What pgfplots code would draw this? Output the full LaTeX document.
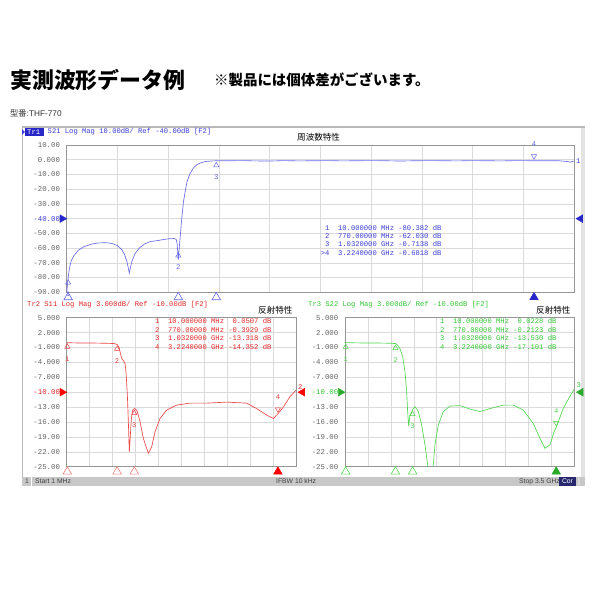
\documentclass[border=0pt]{standalone}
\usepackage{fontspec}
\setmainfont{Liberation Sans}
\newfontfamily\cjk{Noto Sans CJK JP}
\newfontfamily\vna{Liberation Mono}
\usepackage{pgfplots}
\pgfplotsset{compat=1.18}
\definecolor{tblue}{RGB}{104,104,232}
\definecolor{lblue}{RGB}{60,60,215}
\definecolor{tred}{RGB}{236,70,70}
\definecolor{lred}{RGB}{228,40,40}
\definecolor{tgreen}{RGB}{80,215,80}
\definecolor{lgreen}{RGB}{50,200,50}
\definecolor{gridc}{RGB}{218,218,218}
\definecolor{borderc}{RGB}{150,150,150}
\definecolor{tickc}{RGB}{100,100,100}
\definecolor{framec}{RGB}{185,185,185}
\definecolor{statusc}{RGB}{200,200,200}
\definecolor{corc}{RGB}{40,40,110}
\definecolor{trbox}{RGB}{40,40,200}
\newcommand{\vf}{\vna\fontsize{7.2}{8}\selectfont}
\pgfplotsset{
  vna/.style={
    scale only axis, anchor=north west,
    xmin=0, xmax=3.5,
    xtick={0,0.35,0.7,1.05,1.4,1.75,2.1,2.45,2.8,3.15,3.5},
    xticklabels={},
    grid=major,
    major grid style={gridc, line width=0.5bp},
    axis line style={borderc, line width=0.7bp},
    major tick length=0pt,
    yticklabel style={font=\vna\fontsize{7.4}{8}\selectfont, text=tickc, anchor=east, inner sep=0pt, xshift=-6.5bp},
    clip mode=individual,
    clip marker paths=false,
  },
  trc/.style={line width=0.65bp, no marks, #1},
  mkdown/.style={only marks, mark=triangle, mark size=3bp,
    mark options={draw=#1, line width=0.5bp, yshift=-4.5bp},
    nodes near coords, point meta=explicit symbolic,
    every node near coord/.append style={anchor=center, yshift=-12bp, font=\vf, text=#1, inner sep=0pt}},
  mkup/.style={only marks, mark=triangle, mark size=3bp,
    mark options={draw=#1, line width=0.5bp, yshift=4.5bp, rotate=180},
    nodes near coords, point meta=explicit symbolic,
    every node near coord/.append style={anchor=center, yshift=12bp, font=\vf, text=#1, inner sep=0pt}},
  stim/.style={only marks, mark=triangle, mark size=5bp,
    mark options={draw=#1, line width=0.6bp, yshift=-5bp}},
  stimact/.style={only marks, mark=triangle*, mark size=5bp,
    mark options={draw=#1, fill=#1, yshift=-5bp}},
  refl/.style={only marks, mark=triangle*, mark size=4.5bp,
    mark options={draw=#1, fill=#1, xshift=-4.5bp, rotate=-90}},
  refr/.style={only marks, mark=triangle*, mark size=4.5bp,
    mark options={draw=#1, fill=#1, xshift=6.5bp, rotate=90}},
}
\begin{document}
\begin{tikzpicture}
\begin{scope}[x=1bp,y=1bp]
\useasboundingbox (0,0) rectangle (600,600);
\fill[white] (0,0) rectangle (600,600);
% titles
\node[anchor=west, inner sep=0pt, font=\cjk\bfseries\fontsize{22}{22}\selectfont] at (10,520) {実測波形データ例};
\node[anchor=west, inner sep=0pt, font=\cjk\bfseries\fontsize{14.5}{14.5}\selectfont] at (214,520) {※製品には個体差がございます。};
\node[anchor=west, inner sep=0pt, font=\fontsize{8.3}{8.3}\selectfont, text=black!80] at (10,487) {{\cjk 型番}:THF-770};
% instrument frame
\fill[framec!40] (581,123) rectangle (585,473);
\draw[framec, line width=0.8bp] (22,114) -- (22,473);
\draw[framec, line width=2bp] (22,473) -- (585,473);
\fill[statusc] (22,114) rectangle (585,123);
\fill[white] (31,114) rectangle (32,123);
\node[anchor=west, inner sep=0pt, font=\fontsize{6.8}{7}\selectfont, text=black!75] at (25,118.5) {1};
\node[anchor=west, inner sep=0pt, font=\fontsize{6.8}{7}\selectfont, text=black!75] at (35,118.5) {Start 1 MHz};
\node[anchor=west, inner sep=0pt, font=\fontsize{6.8}{7}\selectfont, text=black!75] at (276,118.5) {IFBW 10 kHz};
\node[anchor=west, inner sep=0pt, font=\fontsize{6.8}{7}\selectfont, text=black!75] at (519,118.5) {Stop 3.5 GHz};
\fill[corc] (559,114) rectangle (576,123);
\node[anchor=center, inner sep=0pt, font=\fontsize{6.8}{7}\selectfont, text=white] at (567.5,118.5) {Cor};
\fill[white!85!black] (578,115) rectangle (580,122);
% headers
\fill[lblue] (22,465) -- (24.8,468) -- (22,471) -- cycle;
\fill[trbox] (25,464.3) rectangle (43.5,471.7);
\node[anchor=west, inner sep=0pt, font=\vf, text=white] at (27,468) {Tr1};
\node[anchor=west, inner sep=0pt, font=\vf, text=lblue] at (47.5,468) {S21~Log~Mag~10.00dB/~Ref~-40.00dB~[F2]};
\node[anchor=west, inner sep=0pt, font=\cjk\fontsize{8.6}{9}\selectfont] at (297,463) {周波数特性};
\node[anchor=west, inner sep=0pt, font=\vf, text=lred] at (27,295) {Tr2~S11~Log~Mag~3.000dB/~Ref~-10.00dB~[F2]};
\node[anchor=west, inner sep=0pt, font=\cjk\fontsize{8.6}{9}\selectfont] at (258,290) {反射特性};
\node[anchor=west, inner sep=0pt, font=\vf, text=lgreen] at (308,295) {Tr3~S22~Log~Mag~3.000dB/~Ref~-10.00dB~[F2]};
\node[anchor=west, inner sep=0pt, font=\cjk\fontsize{8.6}{9}\selectfont] at (536,290) {反射特性};
\end{scope}

% ---------- Top: S21 ----------
\begin{axis}[vna, at={(66.7bp,455bp)}, width=507.3bp, height=147.3bp,
  ymin=-90, ymax=10, ytick={-90,-80,-70,-60,-50,-40,-30,-20,-10,0,10},
  yticklabels={-90.00,-80.00,-70.00,-60.00,-50.00,\textcolor{lblue}{-40.00},-30.00,-20.00,-10.00,0.000,10.00}]
\addplot[trc=tblue] coordinates {
(0.001,-89.5)(0.004,-86)(0.01,-80.4)(0.018,-74)(0.03,-69)(0.05,-65)(0.08,-61.5)(0.12,-59)(0.17,-57.3)(0.22,-56.5)(0.27,-56.3)(0.31,-56.8)(0.35,-58.3)(0.38,-61)(0.40,-64.5)(0.415,-69)(0.425,-73.5)(0.432,-77)(0.44,-73)(0.45,-69)(0.47,-64)(0.5,-60)(0.54,-57)(0.58,-55.5)(0.62,-55)(0.66,-54.3)(0.7,-53.7)(0.74,-53.5)(0.755,-54)(0.762,-57)(0.767,-64)(0.770,-68)(0.773,-64)(0.778,-58)(0.785,-50)(0.79,-44)(0.797,-37)(0.805,-29)(0.815,-23)(0.83,-15)(0.85,-9.5)(0.875,-5.5)(0.9,-3.3)(0.93,-1.9)(0.96,-1.2)(1.0,-0.85)(1.032,-0.71)(1.1,-0.75)(1.2,-0.6)(1.3,-0.8)(1.4,-0.9)(1.5,-0.6)(1.6,-0.8)(1.7,-0.7)(1.8,-0.6)(1.9,-0.8)(2.0,-0.7)(2.1,-0.6)(2.2,-0.7)(2.3,-0.9)(2.4,-0.7)(2.5,-0.6)(2.6,-0.7)(2.7,-0.8)(2.8,-0.6)(2.9,-0.7)(3.0,-0.8)(3.1,-0.6)(3.224,-0.68)(3.3,-0.7)(3.4,-0.75)(3.45,-1.2)(3.475,-1.6)(3.5,-0.9)};
\addplot[mkdown=tblue] coordinates {(0.01,-80.38)[1] (0.77,-62.03)[2] (1.032,-0.71)[3]};
\addplot[mkup=tblue] coordinates {(3.224,-0.68)[4]};
\addplot[stim=tblue] coordinates {(0.01,-90)(0.77,-90)(1.032,-90)};
\addplot[stimact=trbox] coordinates {(3.224,-90)};
\addplot[refl=trbox] coordinates {(0,-40)};
\addplot[refr=trbox] coordinates {(3.5,-40)};
\node[anchor=west, inner sep=0pt, font=\vf, text=lblue, xshift=2bp] at (axis cs:3.5,-0.8) {1};
\end{axis}

% ---------- Bottom left: S11 ----------
\begin{axis}[vna, at={(66.7bp,282.3bp)}, width=229.3bp, height=149bp,
  ymin=-25, ymax=5, ytick={-25,-22,-19,-16,-13,-10,-7,-4,-1,2,5},
  yticklabels={-25.00,-22.00,-19.00,-16.00,-13.00,\textcolor{lred}{-10.00},-7.000,-4.000,-1.000,2.000,5.000}]
\addplot[trc=tred] coordinates {
(0.001,-0.03)(0.05,-0.05)(0.2,-0.1)(0.4,-0.1)(0.6,-0.15)(0.72,-0.2)(0.77,-0.39)(0.80,-1.0)(0.814,-1.85)(0.839,-3.2)(0.865,-3.65)(0.89,-4.2)(0.905,-5.9)(0.926,-10.6)(0.941,-15.9)(0.956,-22.0)(0.972,-18.6)(0.987,-15.3)(1.007,-13.6)(1.032,-13.3)(1.05,-13.4)(1.078,-13.9)(1.119,-15.9)(1.17,-19.3)(1.246,-22.3)(1.297,-21)(1.348,-18)(1.424,-15.3)(1.526,-13.6)(1.679,-12.6)(1.882,-12.2)(2.136,-12.2)(2.441,-12.0)(2.747,-12.2)(2.899,-13.3)(3.052,-14.6)(3.154,-15.3)(3.224,-14.35)(3.306,-13.0)(3.408,-10.9)(3.5,-9.6)};
\addplot[mkdown=tred] coordinates {(0.01,0.05)[1] (0.77,-0.39)[2] (1.032,-13.32)[3]};
\addplot[mkup=tred] coordinates {(3.224,-14.35)[4]};
\addplot[stim=tred!70] coordinates {(0.01,-25)(0.77,-25)(1.032,-25)};
\addplot[stimact=red] coordinates {(3.224,-25)};
\addplot[refl=red] coordinates {(0,-10)};
\addplot[refr=red] coordinates {(3.5,-10)};
\node[anchor=south west, inner sep=0pt, font=\vf, text=lred, xshift=2bp, yshift=1bp] at (axis cs:3.5,-9.6) {2};
\end{axis}

% ---------- Bottom right: S22 ----------
\begin{axis}[vna, at={(345bp,282.3bp)}, width=229.3bp, height=149bp,
  ymin=-25, ymax=5, ytick={-25,-22,-19,-16,-13,-10,-7,-4,-1,2,5},
  yticklabels={-25.00,-22.00,-19.00,-16.00,-13.00,\textcolor{lgreen}{-10.00},-7.000,-4.000,-1.000,2.000,5.000}]
\addplot[trc=tgreen] coordinates {
(0.001,0)(0.1,-0.05)(0.3,-0.1)(0.5,-0.1)(0.7,-0.15)(0.77,-0.21)(0.80,-0.5)(0.839,-1.2)(0.880,-2.85)(0.916,-5.9)(0.941,-9.9)(0.956,-13.9)(0.972,-16.9)(0.99,-14.6)(1.017,-14.0)(1.032,-13.5)(1.068,-12.9)(1.119,-13.9)(1.17,-16.6)(1.221,-20.6)(1.26,-24.5)(1.29,-29)(1.32,-30)(1.345,-25)(1.373,-20.6)(1.424,-16.6)(1.5,-13.9)(1.602,-12.8)(1.755,-12.7)(1.907,-13.4)(2.06,-13.9)(2.213,-13.3)(2.416,-12.6)(2.569,-12.6)(2.721,-13.6)(2.874,-16.3)(2.976,-19.3)(3.052,-21.3)(3.128,-20.6)(3.19,-18.0)(3.224,-17.1)(3.33,-13.3)(3.43,-10.9)(3.5,-9.4)};
\addplot[mkdown=tgreen] coordinates {(0.01,0.02)[1] (0.77,-0.21)[2] (1.032,-13.53)[3]};
\addplot[mkup=tgreen] coordinates {(3.224,-17.1)[4]};
\addplot[stim=tgreen] coordinates {(0.01,-25)(0.77,-25)(1.032,-25)};
\addplot[stimact=lgreen!85!black] coordinates {(3.224,-25)};
\addplot[refl=lgreen!85!black] coordinates {(0,-10)};
\addplot[refr=lgreen!85!black] coordinates {(3.5,-10)};
\node[anchor=south west, inner sep=0pt, font=\vf, text=lgreen, xshift=2bp, yshift=1bp] at (axis cs:3.5,-9.4) {3};
\end{axis}

% marker readouts on top of the grids
\begin{scope}[x=1bp,y=1bp]
\node[anchor=west, inner sep=0pt, font=\vf, text=lblue] at (320.7,372.3) {~1~~10.000000~MHz~-80.382~dB};
\node[anchor=west, inner sep=0pt, font=\vf, text=lblue] at (320.7,364.0) {~2~~770.00000~MHz~-62.030~dB};
\node[anchor=west, inner sep=0pt, font=\vf, text=lblue] at (320.7,355.7) {~3~~1.0320000~GHz~-0.7138~dB};
\node[anchor=west, inner sep=0pt, font=\vf, text=lblue] at (320.7,347.3) {>4~~3.2240000~GHz~-0.6818~dB};
\node[anchor=west, inner sep=0pt, font=\vf, text=lred] at (155,279.0) {1~~10.000000~MHz~~0.0507~dB};
\node[anchor=west, inner sep=0pt, font=\vf, text=lred] at (155,270.3) {2~~770.00000~MHz~-0.3929~dB};
\node[anchor=west, inner sep=0pt, font=\vf, text=lred] at (155,261.6) {3~~1.0320000~GHz~-13.318~dB};
\node[anchor=west, inner sep=0pt, font=\vf, text=lred] at (155,253.0) {4~~3.2240000~GHz~-14.352~dB};
\node[anchor=west, inner sep=0pt, font=\vf, text=lgreen] at (440,279.0) {1~~10.000000~MHz~~0.0228~dB};
\node[anchor=west, inner sep=0pt, font=\vf, text=lgreen] at (440,270.3) {2~~770.00000~MHz~-0.2123~dB};
\node[anchor=west, inner sep=0pt, font=\vf, text=lgreen] at (440,261.6) {3~~1.0320000~GHz~-13.530~dB};
\node[anchor=west, inner sep=0pt, font=\vf, text=lgreen] at (440,253.0) {4~~3.2240000~GHz~-17.101~dB};
\end{scope}
\end{tikzpicture}
\end{document}
